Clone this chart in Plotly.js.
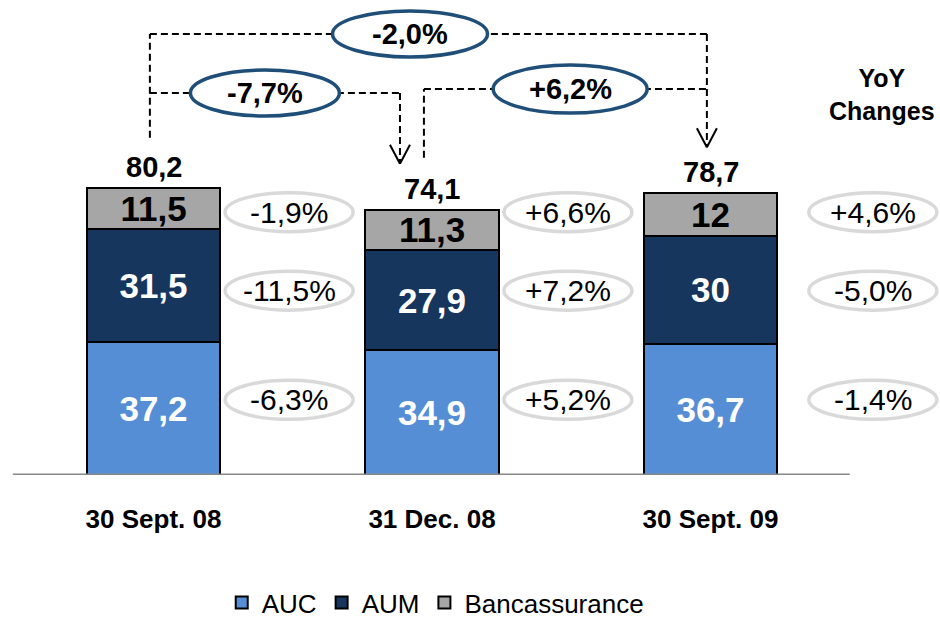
<!DOCTYPE html>
<html>
<head>
<meta charset="utf-8">
<script src="https://cdn.plot.ly/plotly-3.0.1.min.js"></script>
<style>
  html, body { margin: 0; padding: 0; background: #fff; }
  #myDiv { width: 940px; height: 627px; }
</style>
</head>
<body>
<div id="myDiv"></div>
<script>
var categories = ['30 Sept. 08', '31 Dec. 08', '30 Sept. 09'];
var auc = [37.2, 34.9, 36.7];
var aum = [31.5, 27.9, 30];
var banc = [11.5, 11.3, 12];

// YoY change bubbles next to each bar
var aucChg = ['-6,3%', '+5,2%', '-1,4%'];
var aumChg = ['-11,5%', '+7,2%', '-5,0%'];
var bancChg = ['-1,9%', '+6,6%', '+4,6%'];

// changes between the totals: 08->Dec08, Dec08->09, 08->09
var bridgeChg = ['-7,7%', '+6,2%', '-2,0%'];

var fmt = function (v) { return String(v).replace('.', ','); };
var totals = auc.map(function (v, i) {
  return Math.round((v + aum[i] + banc[i]) * 10) / 10;
});

var FONT = 'Liberation Sans, Arial, sans-serif';
var PX = 278.5;   // pixels per category
var PY = 3.58;    // pixels per unit

function segText(color) {
  return { family: FONT, size: 35, color: color, weight: 'bold' };
}

function barTrace(name, vals, fill, txtColor) {
  return {
    type: 'bar',
    name: name,
    x: categories,
    y: vals,
    text: vals.map(fmt),
    textposition: 'inside',
    insidetextanchor: 'middle',
    textangle: 0,
    constraintext: 'none',
    textfont: segText(txtColor),
    marker: { color: fill, line: { color: '#000', width: 2 } },
    hoverinfo: 'skip'
  };
}

var data = [
  barTrace('AUC', auc, '#558ED5', '#fff'),
  barTrace('AUM', aum, '#17365D', '#fff'),
  barTrace('Bancassurance', banc, '#A6A6A6', '#000')
];

var shapes = [];
var annotations = [];

// base line
shapes.push({
  type: 'line', xref: 'x', yref: 'y',
  x0: -0.505, x1: 2.5, y0: 0, y1: 0,
  line: { color: '#888', width: 3 }, layer: 'above'
});

function dash(x0, y0, x1, y1) {
  shapes.push({
    type: 'line', xref: 'x', yref: 'y', x0: x0, y0: y0, x1: x1, y1: y1,
    line: { color: '#000', width: 2, dash: '7px,4px' }
  });
}
function arrowHead(x, y) {
  var dx = 10 / PX, dy = 19 / PY;
  [-dx, dx].forEach(function (d) {
    shapes.push({
      type: 'line', xref: 'x', yref: 'y',
      x0: x + d, y0: y + dy, x1: x, y1: y,
      line: { color: '#000', width: 2 }
    });
  });
}
function ellipse(cx, cy, w, h, color, lw) {
  shapes.push({
    type: 'circle', xref: 'x', yref: 'y',
    x0: cx - w / PX / 2, x1: cx + w / PX / 2,
    y0: cy - h / PY / 2, y1: cy + h / PY / 2,
    fillcolor: '#fff', line: { color: color, width: lw }
  });
}
function label(x, y, txt, size, bold) {
  annotations.push({
    xref: 'x', yref: 'y', x: x, y: y, text: txt, showarrow: false,
    xanchor: 'center', yanchor: 'middle',
    font: { family: FONT, size: size, color: '#000', weight: bold ? 'bold' : 'normal' }
  });
}

// bracket levels
var L1 = 123.2, L2 = 106.7, L3 = 107.8;
var xL = -0.013, xMa = 0.885, xMs = 0.971, xR = 1.987;
var tipM = totals[1] + 12.85, tipR = totals[2] + 12.85;

// outer bracket 08 -> 09
dash(xL, totals[0] + 14, xL, L1);
dash(xL, L1, xR, L1);
dash(xR, L1, xR, tipR);
arrowHead(xR, tipR);
// 08 -> Dec 08
dash(xL, L2, xMa, L2);
dash(xMa, L2, xMa, tipM);
arrowHead(xMa, tipM);
// Dec 08 -> 09
dash(xMs, totals[1] + 14.5, xMs, L3);
dash(xMs, L3, xR, L3);

var blue = '#1F4E79';
ellipse(0.4, L2, 149, 46, blue, 3.5);
label(0.4, L2, bridgeChg[0], 29, true);
ellipse(1.496, L3, 154, 48, blue, 3.5);
label(1.496, L3, bridgeChg[1], 29, true);
ellipse(0.921, L1, 155, 46, blue, 3.5);
label(0.921, L1, bridgeChg[2], 29, true);

// totals above bars
totals.forEach(function (t, i) {
  annotations.push({
    xref: 'x', yref: 'y', x: i, y: t, yshift: 21, text: fmt(t), showarrow: false,
    xanchor: 'center', yanchor: 'middle',
    font: { family: FONT, size: 29, color: '#000', weight: 'bold' }
  });
});

// YoY bubbles
var bubbleX = [0.487, 1.488, 2.583];
var rows = [[bancChg, 73.4], [aumChg, 51.5], [aucChg, 21]];
rows.forEach(function (r) {
  r[0].forEach(function (txt, i) {
    ellipse(bubbleX[i], r[1], 128, 39, '#D9D9D9', 3.5);
    label(bubbleX[i], r[1], txt, 30, false);
  });
});

annotations.push({
  xref: 'paper', yref: 'paper', x: 882 / 940, y: 0.802,
  text: 'YoY<br>Changes', showarrow: false, xanchor: 'center', yanchor: 'middle',
  font: { family: FONT, size: 25, color: '#000', weight: 'bold' }
});

var layout = {
  width: 940,
  height: 627,
  margin: { l: 0, r: 0, t: 0, b: 152, autoexpand: false },
  paper_bgcolor: '#fff',
  plot_bgcolor: '#fff',
  barmode: 'stack',
  bargap: 0.519,
  uniformtext: { minsize: 35, mode: 'show' },
  showlegend: true,
  legend: {
    orientation: 'h', x: 0.463, xanchor: 'center', y: -0.318, yanchor: 'bottom',
    traceorder: 'normal', itemwidth: 30,
    font: { family: FONT, size: 26, color: '#000' }
  },
  xaxis: {
    type: 'category',
    range: [-153.5 / PX, (940 - 153.5) / PX],
    showgrid: false, zeroline: false, showline: false, ticks: '',
    ticklabelstandoff: 26,
    tickfont: { family: FONT, size: 26, color: '#000', weight: 'bold' },
    fixedrange: true
  },
  yaxis: {
    range: [0, 475 / PY],
    visible: false, showgrid: false, zeroline: false, fixedrange: true
  },
  shapes: shapes,
  annotations: annotations
};

Plotly.newPlot('myDiv', data, layout, { staticPlot: true, displayModeBar: false });
</script>
</body>
</html>
